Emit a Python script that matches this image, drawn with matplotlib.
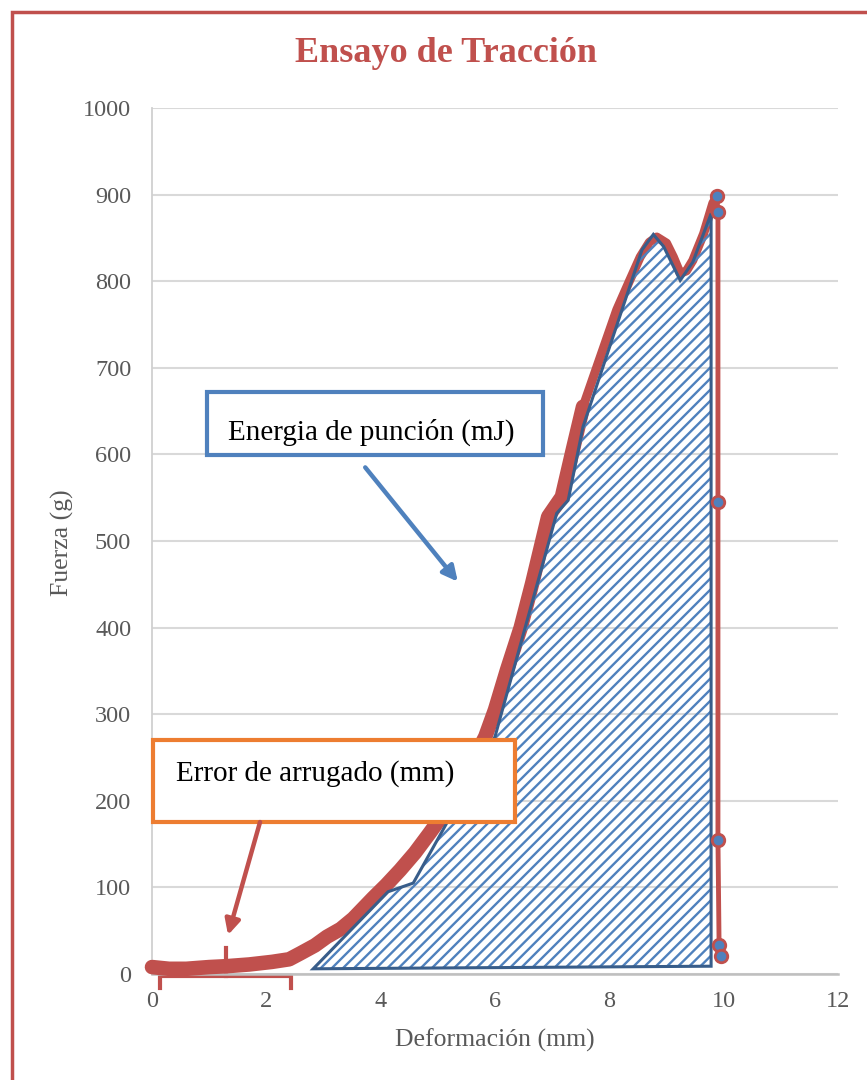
import matplotlib
matplotlib.use("Agg")
import matplotlib.pyplot as plt
from matplotlib.patches import Polygon, Rectangle

plt.rcParams["font.family"] = ["Liberation Serif", "DejaVu Serif"]
plt.rcParams["hatch.linewidth"] = 1.7

RED = "#C0504D"
BLUE = "#4F81BD"
DARK_BLUE = "#385D8A"
ORANGE = "#ED7D31"
GREY = "#595959"

# Curva de traccion (mm, g)
deformacion = [0.0, 0.3, 0.6, 1.0, 1.3, 1.7, 2.1, 2.4, 2.6, 2.85, 3.06, 3.3, 3.52, 3.87,
               4.1, 4.34, 4.6, 4.86, 5.1, 5.3, 5.55, 5.83, 6.0, 6.21, 6.45, 6.65, 6.93,
               7.17, 7.36, 7.54,
               7.84, 8.13, 8.35, 8.54, 8.7, 8.83, 9.0, 9.12, 9.24, 9.35, 9.46, 9.65, 9.81,
               9.88, 9.9, 9.9, 9.9, 9.92, 9.95]
fuerza = [8, 6, 6, 8, 9, 11, 14, 17, 24, 33, 43, 52, 64, 88,
          103, 120, 140, 163, 185, 205, 238, 274, 305, 351, 400, 451, 528,
          551, 605, 655,
          712, 767, 800, 828, 845, 851, 844, 828, 809, 812, 824, 855, 890,
          898, 880, 545, 155, 33, 21]
n_dense = 29   # tramo con puntos densos (linea gruesa)
n_peak = 43    # indice del maximo antes de la caida

# Area de energia de puncion
energia_x = [2.82, 4.13, 4.57, 6.0, 7.08, 7.28, 7.54, 8.57, 8.77, 8.95, 9.24, 9.46,
             9.78, 9.78]
energia_y = [6, 95, 105, 274, 532, 547, 632, 836, 854, 840, 801, 822, 878, 9]

x_ticks = [0, 2, 4, 6, 8, 10, 12]
y_ticks = list(range(0, 1001, 100))

fig = plt.figure(figsize=(8.67, 10.8), dpi=100)
ax = fig.add_axes([152 / 867, 1 - 974 / 1080, 686 / 867, 866 / 1080])

ax.set_xlim(0, 12)
ax.set_ylim(0, 1000)
ax.set_xticks(x_ticks)
ax.set_yticks(y_ticks)
ax.tick_params(length=0, labelsize=17.5, labelcolor=GREY)
ax.tick_params(axis="x", pad=12)
ax.tick_params(axis="y", pad=15)
ax.grid(axis="y", color="#D9D9D9", lw=1.5)
ax.set_axisbelow(True)
for s in ["top", "right"]:
    ax.spines[s].set_visible(False)
ax.spines["left"].set_color("#D0D0D0")
ax.spines["left"].set_linewidth(1.3)
ax.spines["bottom"].set_color("#BFBFBF")
ax.spines["bottom"].set_linewidth(1.8)

# curva roja
ax.plot(deformacion[:n_dense + 1], fuerza[:n_dense + 1], color=RED, lw=10.5,
        solid_capstyle="round", solid_joinstyle="round", zorder=3, clip_on=False)
ax.plot(deformacion[n_dense:n_peak + 1], fuerza[n_dense:n_peak + 1], color=RED, lw=6.5,
        solid_capstyle="round", solid_joinstyle="round", zorder=3)
ax.plot(deformacion[n_peak:], fuerza[n_peak:], color=RED, lw=3.5, zorder=3)
ax.plot(deformacion[n_peak:], fuerza[n_peak:], ls="none", marker="o", ms=9,
        mfc=BLUE, mec=RED, mew=2, zorder=6, clip_on=False)

# area rayada
ax.add_patch(Polygon(list(zip(energia_x, energia_y)), closed=True, facecolor="none",
                     edgecolor=BLUE, hatch="///", lw=0, zorder=4))
ax.add_patch(Polygon(list(zip(energia_x, energia_y)), closed=True, facecolor="none",
                     edgecolor=DARK_BLUE, lw=2.2, zorder=5))

# cuadro energia
ax.add_patch(Rectangle((0.96, 599), 5.88, 73, facecolor="white", edgecolor=BLUE,
                       lw=3, zorder=7))
ax.text(1.33, 625, "Energia de punción (mJ)", fontsize=21, va="center", ha="left",
        color="black", zorder=8)
ax.annotate("", xy=(5.35, 453), xytext=(3.73, 585), zorder=7,
            arrowprops=dict(arrowstyle="-|>,head_length=0.9,head_width=0.45",
                            color=BLUE, lw=3.2, shrinkA=0, shrinkB=0))

# cuadro error
ax.add_patch(Rectangle((0.02, 175.5), 6.33, 94.5, facecolor="white", edgecolor=ORANGE,
                       lw=3, zorder=7, clip_on=False))
ax.text(0.42, 232, "Error de arrugado (mm)", fontsize=21, va="center", ha="left",
        color="black", zorder=8)
ax.annotate("", xy=(1.33, 45), xytext=(1.89, 175.5), zorder=7,
            arrowprops=dict(arrowstyle="-|>,head_length=0.9,head_width=0.45",
                            color=RED, lw=3.2, shrinkA=0, shrinkB=0))

# corchete bajo el eje
ax.plot([0.14, 0.14, 2.43, 2.43], [-16, -2.5, -2.5, -16], color=RED, lw=3,
        clip_on=False, zorder=2)
ax.plot([1.29, 1.29], [-2.5, 30], color=RED, lw=3, clip_on=False, zorder=2)

# textos
fig.text(446 / 867, 1 - 54 / 1080, "Ensayo de Tracción", fontsize=26, fontweight="bold",
         color=RED, ha="center", va="center")
fig.text(62 / 867, 1 - 543 / 1080, "Fuerza (g)", fontsize=18.5, color=GREY,
         rotation=90, ha="center", va="center")
fig.text(495 / 867, 1 - 1040 / 1080, "Deformación (mm)", fontsize=18.5, color=GREY,
         ha="center", va="center")

# marco del grafico
fig.add_artist(Rectangle((12 / 867, -0.1), 1.2, 1.1 - 12 / 1080, transform=fig.transFigure,
                         fill=False, edgecolor=RED, lw=2.5))

fig.savefig("out.png", dpi=100)
